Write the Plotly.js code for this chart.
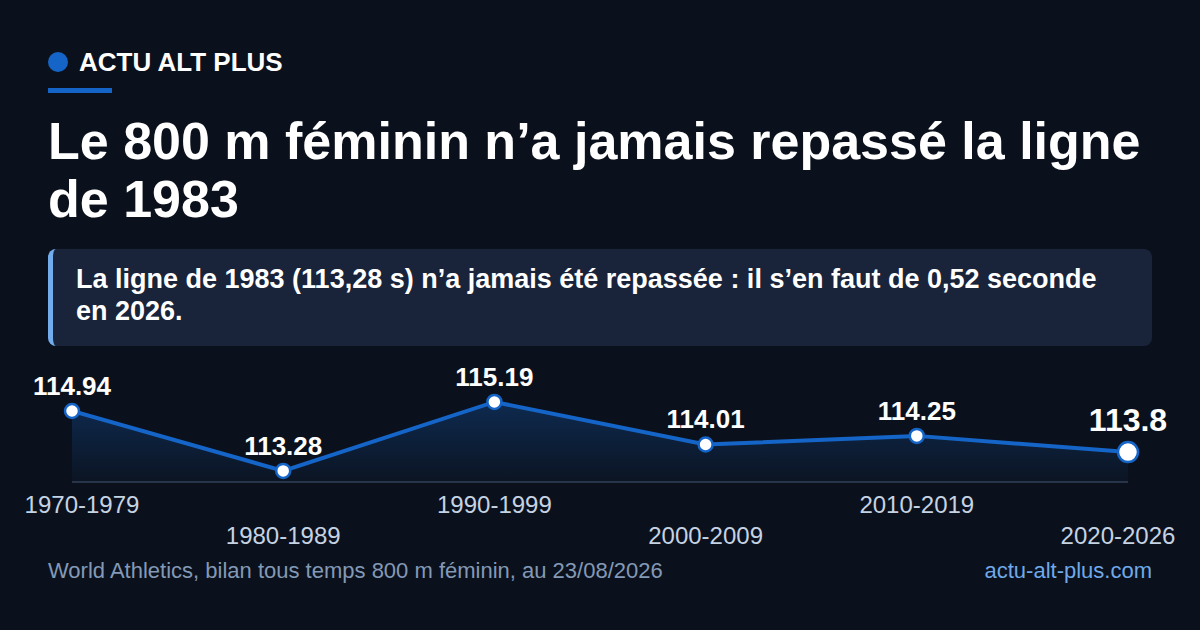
<!DOCTYPE html>
<html>
<head>
<meta charset="utf-8">
<script src="https://cdn.plot.ly/plotly-3.0.1.min.js"></script>
<style>
  html, body { margin: 0; padding: 0; }
  body {
    width: 1200px; height: 630px; overflow: hidden; position: relative;
    background: #0b111c; font-family: "Liberation Sans", Arial, sans-serif; color: #fff;
  }
  #brand { position: absolute; left: 48px; top: 48px; height: 28px; display: flex; align-items: center; }
  #brand .dot { width: 20px; height: 20px; border-radius: 50%; background: #1565c8; margin-right: 11px; }
  #brand .name { font-weight: bold; font-size: 26px; }
  #rule { position: absolute; left: 48px; top: 88px; width: 64px; height: 5px; background: #1565c8; }
  #title { position: absolute; left: 48px; top: 112px; width: 1110px; font-weight: bold; font-size: 52px; line-height: 58px; }
  #callout {
    position: absolute; left: 48px; top: 249px; width: 1104px; height: 97px; box-sizing: border-box;
    background: #19233a; border-radius: 8px; border-left: 5px solid #72acec;
    padding: 14px 30px 0 23px; font-weight: bold; font-size: 27px; line-height: 32px;
  }
  #plot { position: absolute; left: 0; top: 0; width: 1200px; height: 630px; }
  #source { position: absolute; left: 48px; top: 558px; font-size: 22px; color: #8399b6; }
  #site { position: absolute; right: 48px; top: 558px; font-size: 22px; color: #6fa9ea; }
</style>
</head>
<body>
<div id="brand"><div class="dot"></div><div class="name">ACTU ALT PLUS</div></div>
<div id="rule"></div>
<div id="title">Le 800 m féminin n’a jamais repassé la ligne de 1983</div>
<div id="callout">La ligne de 1983 (113,28 s) n’a jamais été repassée : il s’en faut de 0,52 seconde en 2026.</div>
<div id="plot"></div>
<div id="source">World Athletics, bilan tous temps 800 m féminin, au 23/08/2026</div>
<div id="site">actu-alt-plus.com</div>
<script>
// DATA =========================================================
var decades = ['1970-1979', '1980-1989', '1990-1999', '2000-2009', '2010-2019', '2020-2026'];
var bestTimes = [114.94, 113.28, 115.19, 114.01, 114.25, 113.8];
var labels = ['114.94', '113.28', '115.19', '114.01', '114.25', '113.8'];

// PLOT =========================================================
var last = decades.length - 1;
var pad = '\u00a0\u00a0\u00a0';
// alternate rows, and keep the two end labels inside the frame
var tickText = decades.map(function (d, i) {
    var t = d;
    if (i === 0) t = pad + t;
    if (i === last) t = t + pad;
    return i % 2 ? '<br>' + t : t;
});
var markerSizes = decades.map(function (d, i) { return i === last ? 20 : 14; });
var labelSizes = decades.map(function (d, i) { return i === last ? 32 : 26; });

var data = [{
    x: decades,
    y: bestTimes,
    type: 'scatter',
    mode: 'lines+markers+text',
    text: labels,
    textposition: 'top center',
    textfont: { family: 'Liberation Sans, Arial, sans-serif', size: labelSizes, color: '#ffffff', weight: 'bold' },
    line: { color: '#1565c8', width: 4 },
    marker: { size: markerSizes, color: '#ffffff', opacity: 1, line: { color: '#1565c8', width: 2.5 } },
    fill: 'tozeroy',
    fillgradient: {
        type: 'vertical',
        start: 113.0,
        stop: 115.19,
        colorscale: [[0, 'rgba(21,101,200,0.04)'], [1, 'rgba(21,101,200,0.30)']]
    },
    cliponaxis: false,
    hoverinfo: 'skip'
}];

var layout = {
    width: 1200,
    height: 630,
    paper_bgcolor: 'rgba(0,0,0,0)',
    plot_bgcolor: 'rgba(0,0,0,0)',
    showlegend: false,
    margin: { l: 72, r: 72, t: 370, b: 149 },
    font: { family: 'Liberation Sans, Arial, sans-serif', color: '#c5d3e3' },
    xaxis: {
        type: 'category',
        range: [0, last],
        tickvals: decades,
        ticktext: tickText,
        tickfont: { size: 24, color: '#c5d3e3' },
        showgrid: false,
        zeroline: false,
        showline: true,
        linecolor: '#27344a',
        linewidth: 2,
        ticks: '',
        ticklabelstandoff: 1
    },
    yaxis: {
        range: [113.0, 116.075],
        visible: false,
        showgrid: false,
        zeroline: false
    }
};

Plotly.newPlot('plot', data, layout, { displayModeBar: false, staticPlot: true });
</script>
</body>
</html>
